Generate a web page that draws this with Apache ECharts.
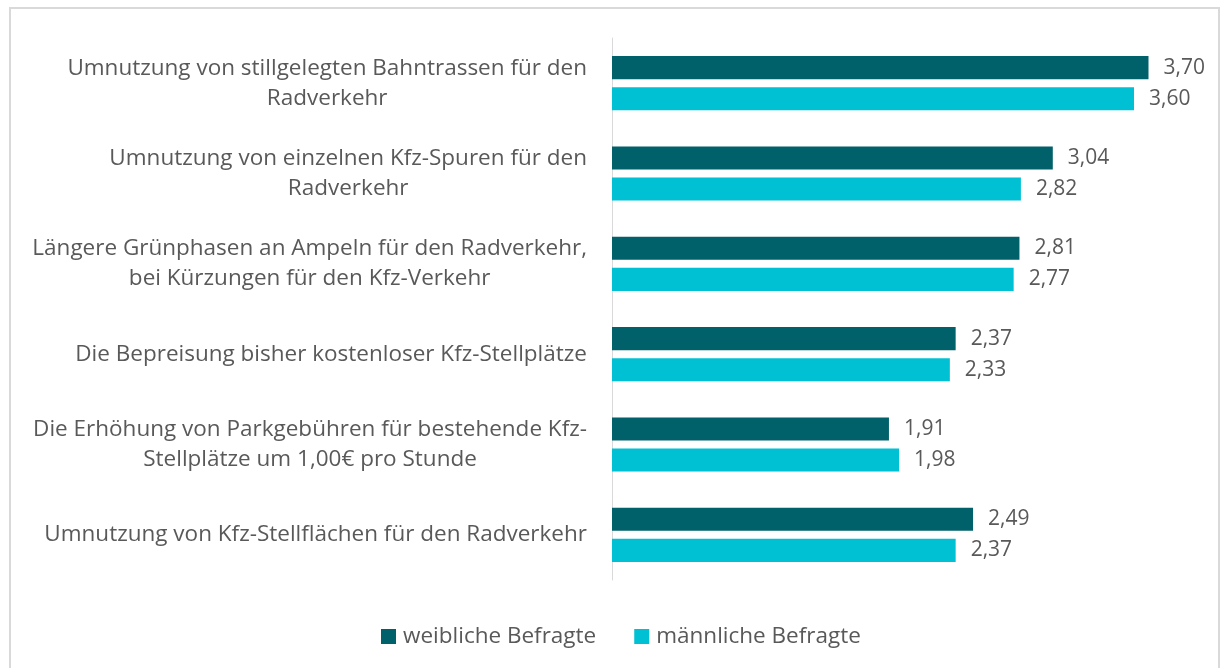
<!DOCTYPE html>
<html>
<head>
<meta charset="utf-8">
<script src="https://cdn.jsdelivr.net/npm/echarts@6/dist/echarts.min.js"></script>
<style>
	html, body { margin: 0; padding: 0; background: #fff; }
	#chart { width: 1221px; height: 668px; }
</style>
</head>
<body>
<div id="chart"></div>
<script>
var categories = [
	'Umnutzung von stillgelegten Bahntrassen für den\nRadverkehr',
	'Umnutzung von einzelnen Kfz-Spuren für den\nRadverkehr',
	'Längere Grünphasen an Ampeln für den Radverkehr,\nbei Kürzungen für den Kfz-Verkehr',
	'Die Bepreisung bisher kostenloser Kfz-Stellplätze',
	'Die Erhöhung von Parkgebühren für bestehende Kfz-\nStellplätze um 1,00€ pro Stunde',
	'Umnutzung von Kfz-Stellflächen für den Radverkehr',
]
var seriesNames = ['weibliche Befragte', 'männliche Befragte']
var weiblich = [3.70, 3.04, 2.81, 2.37, 1.91, 2.49]
var maennlich = [3.60, 2.82, 2.77, 2.33, 1.98, 2.37]

var chart = echarts.init(document.getElementById('chart'))

var textColor = '#595959'
var fontFamily = '"Open Sans", "Noto Sans", sans-serif'

var valueLabel = {
	show: true,
	position: 'right',
	distance: 15,
	color: textColor,
	fontSize: 21,
	fontFamily: fontFamily,
	formatter: function (p) {
		return p.value.toFixed(2).replace('.', ',')
	},
}

var option = {
	backgroundColor: '#fff',
	animation: false,
	graphic: [
		{
			type: 'rect',
			shape: { x: 10, y: 8, width: 1209, height: 700 },
			style: { fill: 'none', stroke: '#d9d9d9', lineWidth: 2 },
			silent: true,
		},
	],
	grid: {
		left: 612,
		right: 29,
		top: 38,
		bottom: 88,
	},
	legend: {
		top: 620,
		left: 376,
		itemWidth: 15,
		itemHeight: 15,
		itemGap: 38,
		icon: 'rect',
		textStyle: { color: textColor, fontSize: 22.5, fontFamily: fontFamily, padding: [0, 0, 0, 2] },
		data: seriesNames,
	},
	xAxis: {
		type: 'value',
		min: 0,
		max: 4,
		axisLabel: { show: false },
		axisLine: { show: false },
		axisTick: { show: false },
		splitLine: { show: false },
	},
	yAxis: {
		type: 'category',
		inverse: true,
		data: categories,
		axisLine: { show: true, lineStyle: { color: '#d9d9d9', width: 1 } },
		axisTick: { show: false },
		axisLabel: {
			margin: 25,
			color: textColor,
			fontSize: 22.5,
			fontFamily: fontFamily,
			lineHeight: 30,
			formatter: function (v) {
				return v.split('\n').map(function (l) { return '{c|' + l + '}' }).join('\n')
			},
			rich: {
				c: { align: 'center', color: textColor, fontSize: 22.5, fontFamily: fontFamily, lineHeight: 30 },
			},
		},
	},
	series: [
		{
			name: seriesNames[0],
			type: 'bar',
			data: weiblich,
			itemStyle: { color: '#00616a' },
			barGap: '35%',
			barCategoryGap: '40%',
			label: valueLabel,
		},
		{
			name: seriesNames[1],
			type: 'bar',
			data: maennlich,
			itemStyle: { color: '#00c0d4' },
			barGap: '35%',
			barCategoryGap: '40%',
			label: valueLabel,
		},
	],
}

chart.setOption(option)
</script>
</body>
</html>
